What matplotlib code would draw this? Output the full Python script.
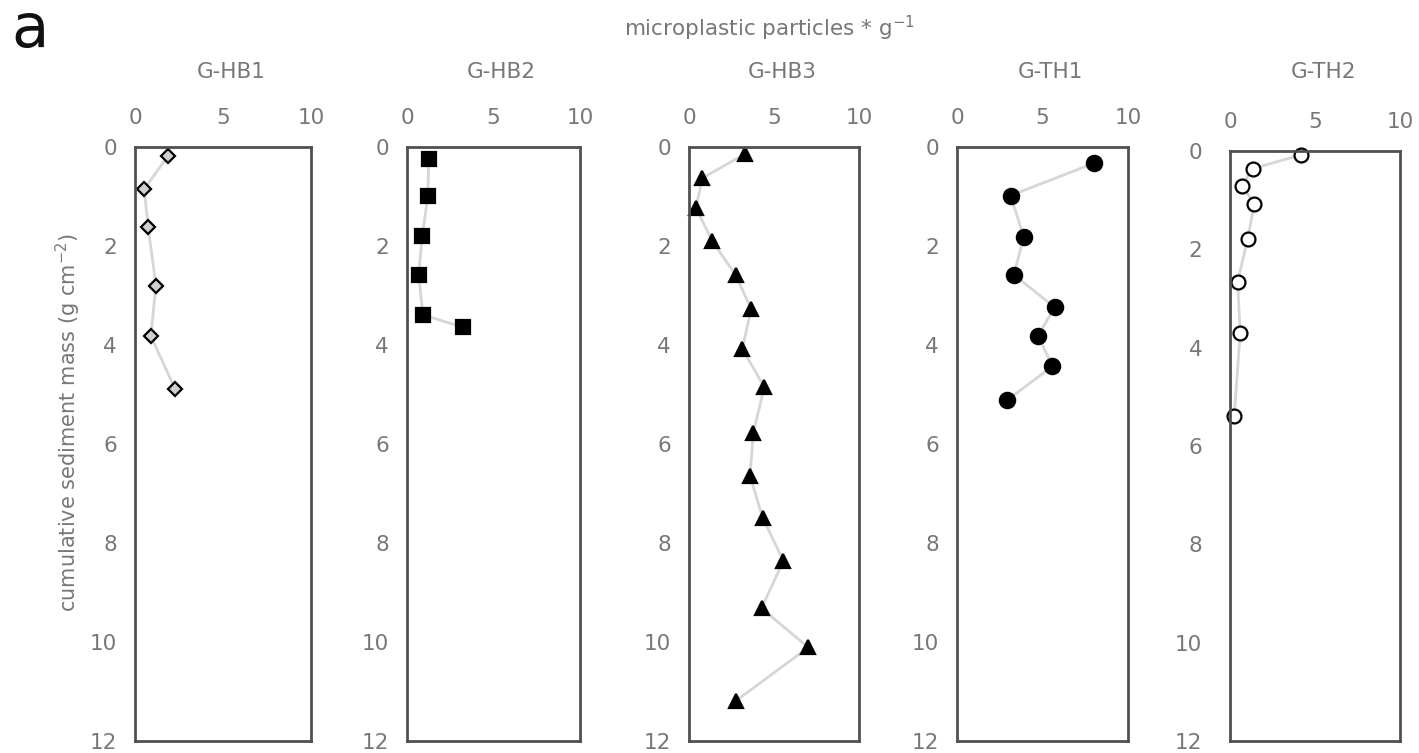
import matplotlib
matplotlib.use("Agg")
import matplotlib.pyplot as plt

# microplastic particles per g (x) vs cumulative sediment mass (y)
cores = ["G-HB1", "G-HB2", "G-HB3", "G-TH1", "G-TH2"]

hb1_mp = [1.86, 0.52, 0.75, 1.19, 0.90, 2.28]
hb1_mass = [0.19, 0.85, 1.62, 2.80, 3.82, 4.89]

hb2_mp = [1.25, 1.21, 0.88, 0.67, 0.92, 3.22]
hb2_mass = [0.25, 0.98, 1.80, 2.58, 3.39, 3.64]

hb3_mp = [3.29, 0.78, 0.41, 1.37, 2.75, 3.65, 3.14, 4.43, 3.78, 3.59, 4.33,
          5.55, 4.27, 7.02, 2.75]
hb3_mass = [0.14, 0.63, 1.23, 1.90, 2.59, 3.27, 4.08, 4.85, 5.78, 6.64, 7.49,
            8.36, 9.32, 10.11, 11.19]

th1_mp = [7.99, 3.14, 3.90, 3.33, 5.71, 4.74, 5.58, 2.95]
th1_mass = [0.33, 0.98, 1.82, 2.58, 3.24, 3.81, 4.43, 5.11]

th2_mp = [4.16, 1.33, 0.70, 1.43, 1.04, 0.45, 0.60, 0.25]
th2_mass = [0.08, 0.36, 0.71, 1.07, 1.79, 2.66, 3.71, 5.38]

x_ticks = [0, 5, 10]
y_ticks = [0, 2, 4, 6, 8, 10, 12]

series = [(hb1_mp, hb1_mass), (hb2_mp, hb2_mass), (hb3_mp, hb3_mass),
          (th1_mp, th1_mass), (th2_mp, th2_mass)]

# marker styles per core: (marker, size, face colour)
styles = [("D", 7, "#cfcfcf"), ("s", 10, "black"), ("^", 10, "black"),
          ("o", 11, "black"), ("o", 10, "white")]

W, H = 1419, 753
fig = plt.figure(figsize=(W / 100, H / 100), dpi=100)

lefts = [135, 407, 689, 957, 1230]
widths = [176, 173, 170, 171, 170]
tops = [147, 147, 147, 147, 151]
bottom = 741
grey_txt = "#777777"

for i, (name, (mp, mass), (mk, ms, fc)) in enumerate(zip(cores, series, styles)):
    ax = fig.add_axes([lefts[i] / W, 1 - bottom / H, widths[i] / W, (bottom - tops[i]) / H])
    ax.plot(mp, mass, color="#d6d6d6", lw=2, zorder=1)
    ax.plot(mp, mass, ls="none", marker=mk, ms=ms, mfc=fc, mec="black",
            mew=1.6, zorder=2, clip_on=False)
    ax.set_xlim(0, 10)
    ax.set_ylim(12, 0)
    ax.set_xticks(x_ticks)
    ax.set_yticks(y_ticks)
    ax.xaxis.tick_top()
    ax.tick_params(axis="x", length=0, pad=14, labelsize=15.5, labelcolor=grey_txt)
    ax.tick_params(axis="y", length=0, pad=13 if i < 4 else 20, labelsize=15.5,
                   labelcolor=grey_txt)
    for sp in ax.spines.values():
        sp.set_color("#505050")
        sp.set_linewidth(2)
    cx = (lefts[i] + widths[i] / 2 + 8) / W
    fig.text(cx, 1 - 72 / H, name, ha="center", va="center", fontsize=15.5,
             color=grey_txt)

fig.text(770 / W, 1 - 28 / H, r"microplastic particles * g$^{-1}$", ha="center",
         va="center", fontsize=15.5, color=grey_txt)
fig.text(68 / W, 1 - 423 / H, r"cumulative sediment mass (g cm$^{-2}$)",
         rotation=90, ha="center", va="center", fontsize=15, color=grey_txt)
fig.text(30 / W, 1 - 30 / H, "a", ha="center", va="center", fontsize=44,
         color="#111111")

fig.savefig("out.png", dpi=100)
